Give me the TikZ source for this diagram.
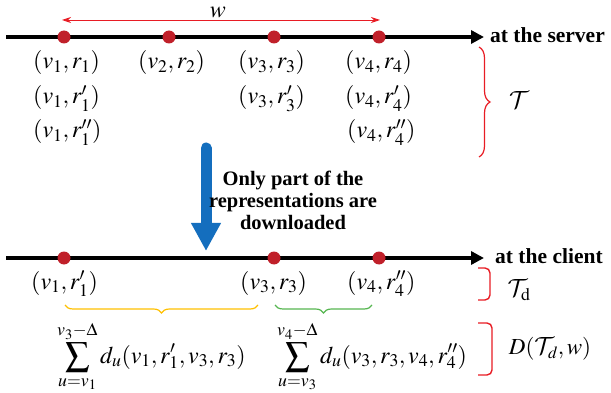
\documentclass[tikz,border=0pt]{standalone}
\usepackage{mathptmx}
\usepackage[no-math]{fontspec}
\setmainfont{Liberation Serif}
\DeclareMathAlphabet{\mathcal}{OMS}{cmsy}{m}{n}
\usetikzlibrary{arrows.meta,decorations.pathreplacing}
\definecolor{dotred}{RGB}{192,32,42}
\definecolor{markred}{RGB}{232,28,36}
\definecolor{downblue}{RGB}{20,110,190}
\definecolor{braceyellow}{RGB}{255,192,0}
\definecolor{bracegreen}{RGB}{86,182,80}
\tikzset{
  timeline/.style={-{Triangle[length=13pt,width=13pt]},line width=3.6pt,draw=black},
  slot/.style={circle,fill=dotred,inner sep=0pt,minimum size=13pt},
  pair/.style={font=\fontsize{24}{28}\selectfont,inner sep=0pt,anchor=base west},
  side/.style={font=\fontsize{21.5}{24}\selectfont\bfseries,inner sep=0pt,anchor=base west},
  note/.style={font=\fontsize{20.5}{22}\selectfont\bfseries,align=center,inner sep=0pt},
  curly/.style={decorate,decoration={brace,amplitude=#1},line width=1.2pt},
  square/.style={draw=markred,line width=1.4pt,rounded corners=5pt}
}

\begin{document}
\begin{tikzpicture}[x=1pt,y=-1pt]
  \useasboundingbox (0,0) rectangle (611,393);

  % server side
  \coordinate (sbegin) at (6,37);
  \coordinate (send) at (484,37);
  \draw[timeline] (sbegin) -- (send);
  \node[slot] (s1) at (64,37) {};
  \node[slot] (s2) at (169,37) {};
  \node[slot] (s3) at (274,37) {};
  \node[slot] (s4) at (379,37) {};
  \node[side] (server) at (490,43) {at the server};

  \coordinate (wleft) at (62,20);
  \coordinate (wright) at (380,20);
  \draw[{Stealth[length=9pt,width=6pt]}-{Stealth[length=9pt,width=6pt]},draw=markred,line width=0.9pt] (wleft) -- (wright);
  \node[font=\fontsize{24}{28}\selectfont,inner sep=0pt] (w) at (218,12) {$w$};

  \node[pair] (p11) at (33,69) {$(v_1,r_1)$};
  \node[pair] (p12) at (33,104) {$(v_1,r_1')$};
  \node[pair] (p13) at (33,138) {$(v_1,r_1'')$};
  \node[pair] (p21) at (138,69) {$(v_2,r_2)$};
  \node[pair] (p31) at (238,69) {$(v_3,r_3)$};
  \node[pair] (p32) at (238,104) {$(v_3,r_3')$};
  \node[pair] (p41) at (345,69) {$(v_4,r_4)$};
  \node[pair] (p42) at (345,104) {$(v_4,r_4')$};
  \node[pair] (p43) at (347,138) {$(v_4,r_4'')$};

  \coordinate (tset1) at (479,47);
  \coordinate (tset2) at (479,157);
  \draw[curly=11pt,draw=markred] (tset1) -- (tset2);
  \node[font=\fontsize{24}{28}\selectfont,inner sep=0pt] (tset) at (519,100) {$\mathcal{T}$};

  % download step
  \coordinate (dtop) at (206,148);
  \coordinate (dbottom) at (206,251);
  \draw[-{Triangle[length=28pt,width=28pt]},line width=11pt,line cap=round,draw=downblue] (dtop) -- (dbottom);
  \node[note] (only) at (293,200) {Only part of the\\representations are\\downloaded};

  % client side
  \coordinate (cbegin) at (6,258);
  \coordinate (cend) at (484,258);
  \draw[timeline] (cbegin) -- (cend);
  \node[slot] (c1) at (64,258) {};
  \node[slot] (c3) at (274,258) {};
  \node[slot] (c4) at (379,258) {};
  \node[side] (client) at (495,263) {at the client};

  \node[pair] (q1) at (31,289) {$(v_1,r_1')$};
  \node[pair] (q3) at (240,289) {$(v_3,r_3)$};
  \node[pair] (q4) at (347,289) {$(v_4,r_4'')$};

  \coordinate (tdtop) at (478,268);
  \coordinate (tdbottom) at (478,300);
  \draw[square] (tdtop) -- ++(12,0) -- ++(0,32) -- (tdbottom);
  \node[font=\fontsize{24}{28}\selectfont,inner sep=0pt] (tdset) at (519,290) {$\mathcal{T}_{\mathrm{d}}$};

  \coordinate (y1) at (258,305);
  \coordinate (y2) at (65,305);
  \draw[curly=8pt,draw=braceyellow] (y1) -- (y2);
  \coordinate (g1) at (372,305);
  \coordinate (g2) at (275,305);
  \draw[curly=8pt,draw=bracegreen] (g1) -- (g2);

  \node[pair] (sum1) at (57,363) {$\displaystyle\sum_{u=v_1}^{v_3-\Delta} d_u(v_1,r_1',v_3,r_3)$};
  \node[pair] (sum2) at (277,363) {$\displaystyle\sum_{u=v_3}^{v_4-\Delta} d_u(v_3,r_3,v_4,r_4'')$};

  \coordinate (dtop2) at (478,323);
  \coordinate (dbottom2) at (478,375);
  \draw[square] (dtop2) -- ++(14,0) -- ++(0,52) -- (dbottom2);
  \node[font=\fontsize{23}{27}\selectfont,inner sep=0pt] (dist) at (550,349) {$D(\mathcal{T}_d,w)$};
\end{tikzpicture}
\end{document}
